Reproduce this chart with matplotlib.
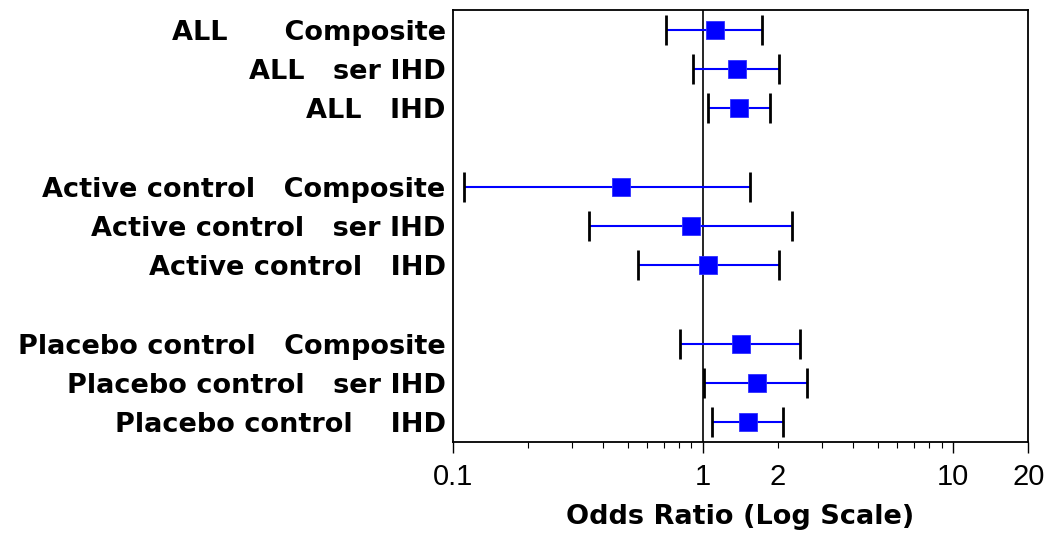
import matplotlib
matplotlib.use("Agg")
import matplotlib.pyplot as plt
from matplotlib.ticker import FixedLocator, FuncFormatter

plt.rcParams["font.family"] = ["Liberation Sans", "DejaVu Sans"]

# Odds ratios with 95% CI, one row per group/outcome
labels = [
    "ALL      Composite",
    "ALL   ser IHD",
    "ALL   IHD",
    "Active control   Composite",
    "Active control   ser IHD",
    "Active control   IHD",
    "Placebo control   Composite",
    "Placebo control   ser IHD",
    "Placebo control    IHD",
]
odds_ratio = [1.12, 1.37, 1.40, 0.47, 0.90, 1.05, 1.42, 1.64, 1.52]
ci_low = [0.71, 0.91, 1.05, 0.111, 0.35, 0.55, 0.81, 1.01, 1.09]
ci_high = [1.72, 2.02, 1.86, 1.55, 2.28, 2.01, 2.44, 2.62, 2.10]
rows_per_group = 3

major_ticks = [0.1, 1, 10, 20]
minor_ticks = [0.2, 0.3, 0.4, 0.5, 0.6, 0.7, 0.8, 0.9, 2, 3, 4, 5, 6, 7, 8, 9]
labelled_minor = [2]

# leave an empty slot between groups
ypos = [i + i // rows_per_group for i in range(len(labels))]

fig = plt.figure(figsize=(10.5, 5.36), dpi=100)
ax = fig.add_axes([0.4311, 0.1759, 0.5482, 0.8054])

ax.axvline(1, color="black", linewidth=1.2, zorder=1)

xerr = [[o - lo for o, lo in zip(odds_ratio, ci_low)],
        [hi - o for o, hi in zip(odds_ratio, ci_high)]]
markers, caps, bars = ax.errorbar(
    odds_ratio, ypos, xerr=xerr, fmt="s", color="#0000ff",
    ecolor="#0000ff", elinewidth=1.5, markersize=12.5,
    markeredgecolor="#3030ff", markeredgewidth=0.6,
    capsize=10.5, capthick=2.0, zorder=3,
)
for c in caps:
    c.set_color("black")
    c.set_markeredgecolor("black")
    c.set_markeredgewidth(2.0)

ax.set_xscale("log")
ax.set_xlim(0.1, 20)
ax.set_ylim(10.5, -0.5)

ax.xaxis.set_major_locator(FixedLocator(major_ticks))
ax.xaxis.set_major_formatter(FuncFormatter(lambda v, p: f"{v:g}"))
ax.xaxis.set_minor_locator(FixedLocator(minor_ticks))
ax.xaxis.set_minor_formatter(
    FuncFormatter(lambda v, p: f"{v:g}" if v in labelled_minor else ""))
ax.tick_params(axis="x", which="major", length=8, width=1.0, labelsize=21, pad=7)
ax.tick_params(axis="x", which="minor", length=4, width=0.8, labelsize=21, pad=11)

ax.set_yticks(ypos)
ax.set_yticklabels(labels, fontsize=19.5, fontweight="bold",
                   family=["DejaVu Sans"])
ax.tick_params(axis="y", length=0, pad=5)

for s in ax.spines.values():
    s.set_linewidth(1.3)

ax.set_xlabel("Odds Ratio (Log Scale)", fontsize=19.5, fontweight="bold",
              family=["DejaVu Sans"], labelpad=10)

fig.savefig("out.png", dpi=100)
